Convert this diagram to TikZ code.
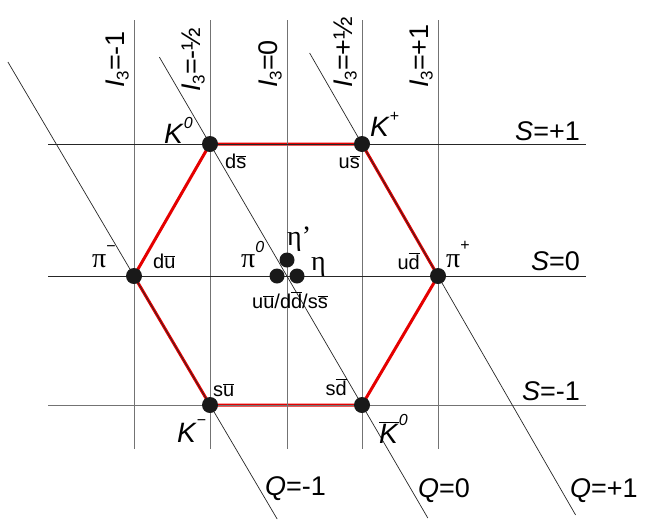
\documentclass[tikz,border=0pt]{standalone}
\usepackage{fontspec}
\setmainfont{Liberation Sans}
\newfontfamily\grk{Liberation Serif}
\usetikzlibrary{calc,backgrounds}
\newcommand\hsup[2][15pt]{\raisebox{#1}{\fontsize{16}{16}\selectfont #2}}
\newcommand\qbar[1]{$\overline{\mbox{#1}}$}
\newcommand\isub{\raisebox{-4pt}{\fontsize{17}{17}\selectfont 3}}
\begin{document}
\begin{tikzpicture}[x=1pt,y=-1pt,
  big/.style={font=\fontsize{27}{27}\selectfont, inner sep=0pt},
  quark/.style={font=\fontsize{20}{20}\selectfont, inner sep=0pt},
  part/.style={font=\fontsize{28}{28}\selectfont, inner sep=0pt},
  dot/.style={circle, fill=black!90, inner sep=0pt, minimum size=16pt},
  cdot/.style={circle, fill=black!90, inner sep=0pt, minimum size=15pt},
  vline/.style={draw=black!55, line width=0.8pt},
  hline/.style={draw=black!85, line width=0.8pt},
  qline/.style={draw=black!85, line width=0.7pt},
  hexa/.style={draw=red!90!black, line width=3pt, line join=round},
]
\useasboundingbox (0,0) rectangle (647,520);

% particle dots
\node[dot] (K0)  at (210,144) {};
\node[dot] (Kp)  at (362,144) {};
\node[dot] (pim) at (134,276) {};
\node[dot] (pip) at (438,276) {};
\node[dot] (Km)  at (210,405) {};
\node[dot] (K0b) at (362,405) {};
\node[cdot] (etapd) at (287,260) {};
\node[cdot] (pi0d)  at (277,276) {};
\node[cdot] (etad)  at (297,276) {};

% grid line end points
\foreach \n/\x in {1/134,2/210,3/287,4/362,5/438}{
  \coordinate (vt\n) at (\x,20);
  \coordinate (vb\n) at (\x,449);
}
\foreach \n/\y in {1/144,2/276,3/405}{
  \coordinate (hl\n) at (48,\y);
  \coordinate (hr\n) at (586,\y);
}

\begin{scope}[on background layer]
  \draw[hexa] (K0.center) -- (Kp.center) -- (pip.center) -- (K0b.center)
              -- (Km.center) -- (pim.center) -- cycle;
  \foreach \n in {1,...,5}{ \draw[vline] (vt\n) -- (vb\n); }
  \draw[hline] (hl1) -- (hr1);
  \draw[hline] (hl2) -- (hr2);
  \draw[vline] (hl3) -- (hr3);
  \draw[qline] ($(pim.center)!-1.659!(Km.center)$) -- ($(pim.center)!1.884!(Km.center)$);
  \draw[qline] ($(K0.center)!-0.333!(K0b.center)$) -- ($(K0.center)!1.433!(K0b.center)$);
  \draw[qline] ($(Kp.center)!-0.689!(pip.center)$) -- ($(Kp.center)!2.81!(pip.center)$);
\end{scope}

% I3 labels
\node[big, rotate=90, anchor=base west] (i1) at (124.5,88) {\textit{I}\isub=-1};
\node[big, rotate=90, anchor=base west] (i2) at (200.5,92) {\textit{I}\isub=-½};
\node[big, rotate=90, anchor=base west] (i3) at (277.5,88) {\textit{I}\isub=0};
\node[big, rotate=90, anchor=base west] (i4) at (352.5,88) {\textit{I}\isub=+½};
\node[big, rotate=90, anchor=base west] (i5) at (428.5,88) {\textit{I}\isub=+1};

% S labels
\node[big, anchor=base east] (s1) at (580,140) {\textit{S}=+1};
\node[big, anchor=base east] (s2) at (580,270) {\textit{S}=0};
\node[big, anchor=base east] (s3) at (580,400) {\textit{S}=-1};

% Q labels
\node[big, anchor=base west] (q1) at (265,495) {\textit{Q}=-1};
\node[big, anchor=base west] (q2) at (418,497) {\textit{Q}=0};
\node[big, anchor=base west] (q3) at (570,497) {\textit{Q}=+1};

% particle names
\node[part, anchor=base west] (lK0)  at (164,143) {\textit{K}\hsup{\textit{0}}};
\node[part, anchor=base west] (lKp)  at (370,136) {\textit{K}\hsup{+}};
\node[part, anchor=base west] (lpim) at (92,267)  {{\grk π}\hsup[16pt]{−}};
\node[part, anchor=base west] (lpip) at (446,267) {{\grk π}\hsup[17pt]{+}};
\node[part, anchor=base west] (lpi0) at (241,267) {{\grk π}\hsup{\textit{0}}};
\node[part, anchor=base west] (leta') at (287,245) {{\grk η’}};
\node[part, anchor=base west] (leta) at (311,270) {{\grk η}};
\node[part, anchor=base west] (lKm)  at (177,442) {\textit{K}\hsup[17pt]{−}};
\node[part, anchor=base west] (lK0b) at (379,443) {$\overline{\mbox{\textit{K}}}$\hsup[18pt]{\textit{0}}};

% quark content
\node[quark, anchor=base west] (qK0)  at (225,168) {d\qbar{s}};
\node[quark, anchor=base east] (qKp)  at (360,168) {u\qbar{s}};
\node[quark, anchor=base west] (qpim) at (153,268) {d\qbar{u}};
\node[quark, anchor=base east] (qpip) at (420,269) {u\qbar{d}};
\node[quark, anchor=base west] (qKm)  at (213,396) {s\qbar{u}};
\node[quark, anchor=base east] (qK0b) at (347,395) {s\qbar{d}};
\node[quark, anchor=base west] (qc)   at (252,308) {u\qbar{u}/d\qbar{d}/s\qbar{s}};
\end{tikzpicture}
\end{document}
